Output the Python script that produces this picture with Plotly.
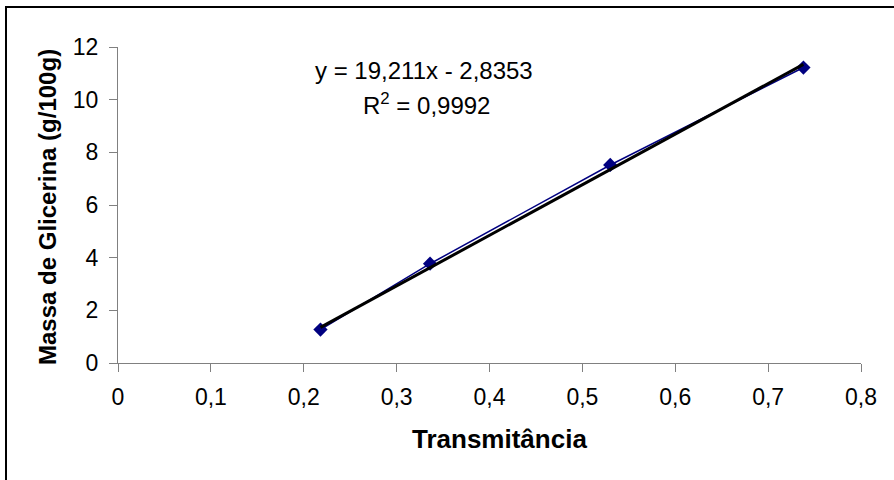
import plotly.graph_objects as go

# Data
transmitancia = [0.218, 0.336, 0.530, 0.738]
massa_glicerina = [1.27, 3.77, 7.52, 11.22]
slope = 19.211
intercept = -2.8353
r2_text = "0,9992"
x_ticks = [0, 0.1, 0.2, 0.3, 0.4, 0.5, 0.6, 0.7, 0.8]
y_ticks = [0, 2, 4, 6, 8, 10, 12]

x_title = "Transmitância"
y_title = "Massa de Glicerina (g/100g)"

FONT = "Liberation Sans, Arial, sans-serif"

trend_x = [min(transmitancia), max(transmitancia)]
trend_y = [slope * v + intercept for v in trend_x]

fig = go.Figure()
fig.add_trace(go.Scatter(
    x=transmitancia, y=massa_glicerina, mode="lines+markers",
    line=dict(color="#000080", width=1.5),
    marker=dict(symbol="diamond", size=11, color="#000080"),
    showlegend=False,
))
fig.add_trace(go.Scatter(
    x=trend_x, y=trend_y, mode="lines",
    line=dict(color="#000000", width=3),
    showlegend=False,
))

W, H = 894, 480
L, R, T, B = 118, 33, 47, 117
pw, ph = W - L - R, H - T - B

def px_x(p):
    return (p - L) / pw

def px_y(p):
    return (H - B - p) / ph

fig.update_layout(
    width=W, height=H,
    margin=dict(l=L, r=R, t=T, b=B),
    paper_bgcolor="white", plot_bgcolor="white",
    separators=",.",
    font=dict(family=FONT, size=23, color="black"),
    xaxis=dict(
        range=[0, 0.8], tickvals=x_ticks, showgrid=False, zeroline=False,
        showline=True, linecolor="#808080", linewidth=1,
        ticks="outside", ticklen=8, tickcolor="#808080",
        tickfont=dict(size=23), ticklabelstandoff=5,
    ),
    yaxis=dict(
        range=[0, 12], tickvals=y_ticks, showgrid=False, zeroline=False,
        showline=True, linecolor="#808080", linewidth=1,
        ticks="outside", ticklen=8, tickcolor="#808080",
        tickfont=dict(size=23), ticklabelstandoff=6,
    ),
    annotations=[
        dict(text=x_title, xref="paper", yref="paper",
             x=px_x(500), y=px_y(439), xanchor="center", yanchor="middle",
             showarrow=False, font=dict(size=26, weight="bold")),
        dict(text=y_title, xref="paper", yref="paper", textangle=-90,
             x=px_x(47), y=px_y(207), xanchor="center", yanchor="middle",
             showarrow=False, font=dict(size=24, weight="bold")),
        dict(text=f"y = {slope:.3f}x - {abs(intercept):.4f}".replace(".", ","),
             xref="paper", yref="paper",
             x=px_x(424), y=px_y(70), xanchor="center", yanchor="middle",
             showarrow=False, font=dict(size=24)),
        dict(text=f"R<sup>2</sup> = {r2_text}",
             xref="paper", yref="paper",
             x=px_x(426), y=px_y(104), xanchor="center", yanchor="middle",
             showarrow=False, font=dict(size=24)),
    ],
    shapes=[
        dict(type="rect", xref="paper", yref="paper",
             x0=px_x(6), x1=px_x(910), y0=px_y(500), y1=px_y(7),
             line=dict(color="black", width=2), fillcolor="rgba(0,0,0,0)",
             layer="below"),
    ],
)

fig.write_html("out.html")
